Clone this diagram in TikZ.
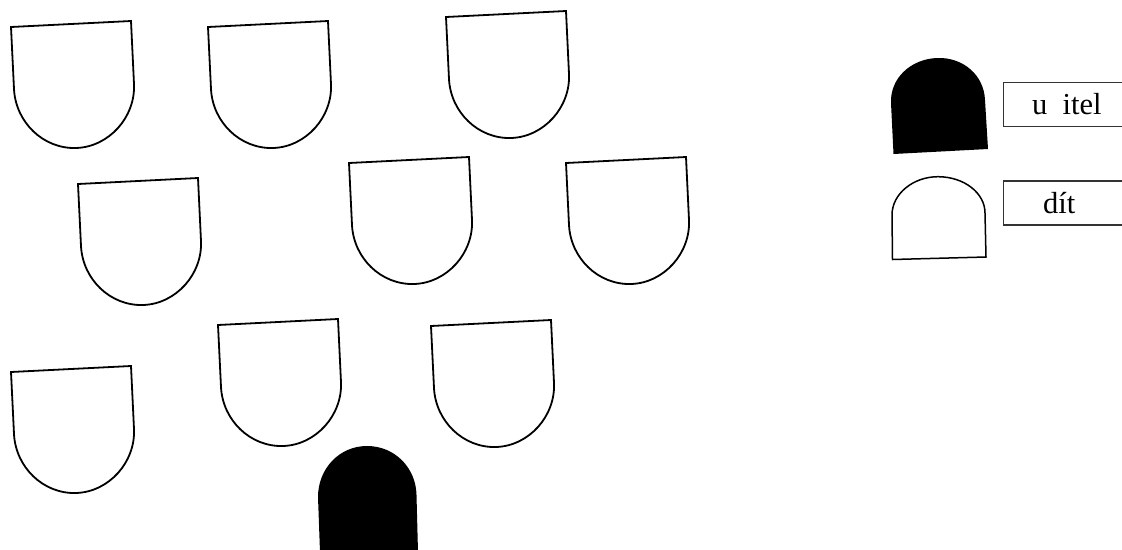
\documentclass[tikz,border=0pt]{standalone}
\usepackage{fontspec}
\setmainfont{Liberation Serif}
\tikzset{
  shieldline/.style={draw=black,line width=1.8pt,fill=white,line join=miter},
  legendbox/.style={draw=black!80,line width=1.2pt,fill=white},
  legendtext/.style={font=\fontsize{30.5}{30}\selectfont,anchor=base west,inner sep=0pt,text=black},
}
\newcommand{\shieldat}[2]{%
  \draw[shieldline,shift={(#1,#2)}]
    (0,0) -- (120,-6) -- (123,57)
    .. controls (124.6,90) and (98,120) .. (65,121)
    .. controls (32,122) and (4.6,95) .. (3,62) -- cycle;}
\begin{document}
\begin{tikzpicture}[x=1pt,y=-1pt]
\useasboundingbox (0,0) rectangle (1122,549);
\clip (0,0) rectangle (1122,549);
\shieldat{11}{27}
\shieldat{208}{27}
\shieldat{446}{17}
\shieldat{78}{184}
\shieldat{349}{163}
\shieldat{566}{163}
\shieldat{11}{372}
\shieldat{218}{325}
\shieldat{431}{326}
% black figure at the bottom
\fill[black] (320,552) -- (318,497)
  .. controls (318,469) and (339,446) .. (367,446)
  .. controls (395,446) and (416,468) .. (416.5,495)
  -- (418,552) -- cycle;
% legend shapes
\fill[black] (893.5,154) -- (891,103)
  .. controls (890,78) and (911,59) .. (937,58)
  .. controls (963,57) and (984,75) .. (985,100)
  -- (988,149) -- cycle;
\draw[shieldline,line width=1.5pt] (892.5,259.5) -- (892,215)
  .. controls (892,194) and (913,176.7) .. (938,176.7)
  .. controls (964,176.7) and (985,193) .. (985,213)
  -- (986,257) -- cycle;
% legend boxes
\draw[legendbox] (1003.5,82.5) rectangle (1130,126.5);
\draw[legendbox] (1003.5,181) rectangle (1130,225);
\node[legendtext] (teacher) at (1032,114) {u\ \ itel};
\node[legendtext] (child) at (1043,213) {dít};
\end{tikzpicture}
\end{document}
